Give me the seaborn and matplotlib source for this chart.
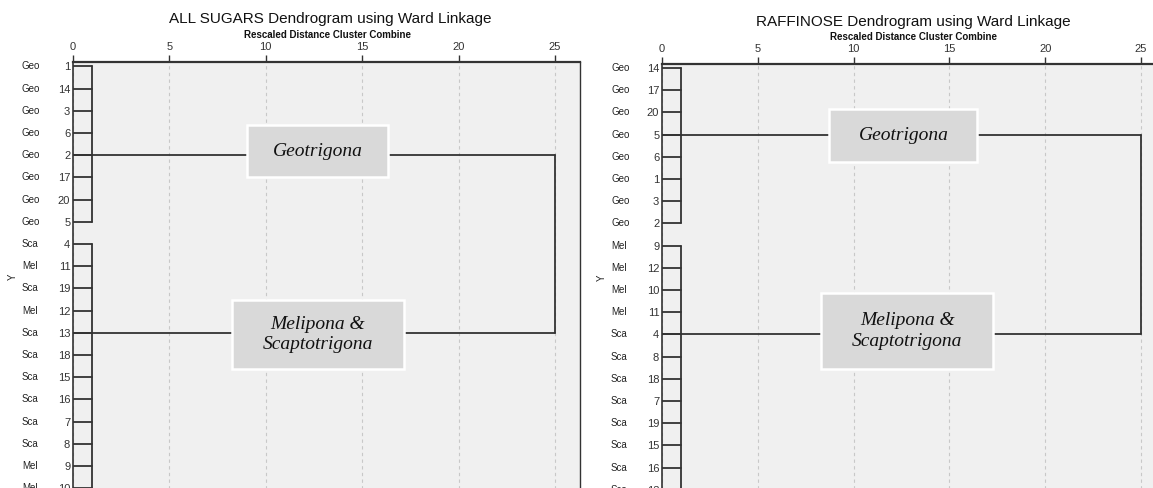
import numpy as np
import pandas as pd
import matplotlib
matplotlib.use("Agg")
import matplotlib.pyplot as plt
import matplotlib.transforms as mtransforms
from matplotlib.patches import Rectangle
import seaborn as sns

sugars_case = [1, 14, 3, 6, 2, 17, 20, 5, 4, 11, 19, 12, 13, 18, 15, 16, 7, 8, 9, 10]
sugars_group = ["Geo"] * 8 + ["Sca", "Mel", "Sca", "Mel", "Sca", "Sca", "Sca",
                              "Sca", "Sca", "Sca", "Mel", "Mel"]
sugars_link_case = [2, 13]

raff_case = [14, 17, 20, 5, 6, 1, 3, 2, 9, 12, 10, 11, 4, 8, 18, 7, 19, 15, 16, 13]
raff_group = ["Geo"] * 8 + ["Mel"] * 4 + ["Sca"] * 8
raff_link_case = [5, 4]

cluster_sizes = [8, 12]
leaf_join = 1.0      # distancia reescalada donde se unen las hojas
root_join = 25       # union final de los dos grupos
cluster_names = ["Geotrigona", "Melipona &\nScaptotrigona"]
x_ticks = [0, 5, 10, 15, 20, 25]

titles = ["ALL SUGARS Dendrogram using Ward Linkage",
          "RAFFINOSE Dendrogram using Ward Linkage"]
subtitle = "Rescaled Distance Cluster Combine"

W, H = 1153, 488
LINE = "#333333"


def segmentos(casos, enlaces):
    filas = []
    seg = 0
    link_rows = [casos.index(c) for c in enlaces]
    for i in range(len(casos)):
        filas += [(seg, 0, i), (seg, leaf_join, i)]
        seg += 1
    inicio = 0
    for size in cluster_sizes:
        filas += [(seg, leaf_join, inicio), (seg, leaf_join, inicio + size - 1)]
        seg += 1
        inicio += size
    for r in link_rows:
        filas += [(seg, 0, r), (seg, root_join, r)]
        seg += 1
    filas += [(seg, root_join, link_rows[0]), (seg, root_join, link_rows[1])]
    return pd.DataFrame(filas, columns=["seg", "x", "y"])


sns.set_style("white")
plt.rcParams["font.family"] = ["Liberation Sans", "DejaVu Sans"]

fig = plt.figure(figsize=(W / 100, H / 100), dpi=100)

# posiciones en pixeles: izquierda, arriba, derecha
paneles = [
    dict(case=sugars_case, group=sugars_group, link=sugars_link_case,
         left=73, top=62, right=580, title_xy=(330, 19), sub_xy=(327, 35),
         grp_x=22, ylab_xy=(13, 277),
         boxes=[(12.7, 3.83, 7.31, 2.34), (12.7, 12.09, 8.92, 3.11)]),
    dict(case=raff_case, group=raff_group, link=raff_link_case,
         left=662, top=63.6, right=1166, title_xy=(913, 22), sub_xy=(914, 37),
         grp_x=611, ylab_xy=(602, 278),
         boxes=[(12.6, 3.04, 7.72, 2.39), (12.79, 11.85, 8.98, 3.42)]),
]

alto_px = 444
for p, titulo in zip(paneles, titles):
    ax = fig.add_axes([p["left"] / W, 1 - (p["top"] + alto_px) / H,
                       (p["right"] - p["left"]) / W, alto_px / H])
    ax.set_facecolor("#f0f0f0")
    ax.set_axisbelow(True)

    seg = segmentos(p["case"], p["link"])
    sns.lineplot(data=seg, x="x", y="y", units="seg", estimator=None, sort=False,
                 color=LINE, lw=1.3, ax=ax, zorder=2)

    ax.set_xlim(0, 26.3)
    ax.set_ylim(19.8, -0.2)
    ax.set_xlabel("")
    ax.set_ylabel("")

    ax.xaxis.tick_top()
    ax.set_xticks(x_ticks)
    ax.tick_params(axis="x", length=5, width=1, color=LINE, pad=2,
                   labelsize=8, labelcolor="#333333")
    ax.set_yticks(range(len(p["case"])))
    ax.set_yticklabels([str(c) for c in p["case"]])
    ax.tick_params(axis="y", length=0, pad=2, labelsize=8, labelcolor="#333333")
    ax.grid(axis="x", ls=(0, (3, 3)), color="#c8c8c8", lw=0.8)
    ax.grid(axis="y", visible=False)

    for lado, lw in [("top", 1.6), ("left", 1.2), ("right", 1.0), ("bottom", 1.0)]:
        ax.spines[lado].set_color(LINE)
        ax.spines[lado].set_linewidth(lw)

    trans = mtransforms.blended_transform_factory(fig.transFigure, ax.transData)
    for i, g in enumerate(p["group"]):
        ax.text(p["grp_x"] / W, i, g, transform=trans, ha="left", va="center",
                fontsize=7, color="#222222")

    fig.text(p["ylab_xy"][0] / W, 1 - p["ylab_xy"][1] / H, "Y", rotation=90,
             ha="center", va="center", fontsize=7, color="#222222")

    for (cx, cy, bw, bh), nombre in zip(p["boxes"], cluster_names):
        ax.add_patch(Rectangle((cx - bw / 2, cy - bh / 2), bw, bh,
                               facecolor="#d9d9d9", edgecolor="white", lw=1.8,
                               zorder=3))
        ax.text(cx, cy, nombre, ha="center", va="center", fontsize=14,
                style="italic", family=["Liberation Serif", "DejaVu Serif"],
                linespacing=1.25, color="#111111", zorder=4)

    fig.text(p["title_xy"][0] / W, 1 - p["title_xy"][1] / H, titulo,
             ha="center", va="center", fontsize=11, color="#111111")
    fig.text(p["sub_xy"][0] / W, 1 - p["sub_xy"][1] / H, subtitle,
             ha="center", va="center", fontsize=7, fontweight="bold", color="#111111")

fig.savefig("out.png", dpi=100)
plt.close(fig)
